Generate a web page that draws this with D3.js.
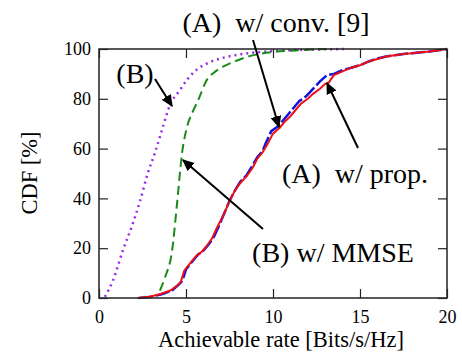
<!DOCTYPE html>
<meta charset='utf-8'>
<html>
  <style>
    body { margin: 0; background: #fff; }
    text { font-family: "Liberation Serif", "Times New Roman", serif; fill: #000; }
    .tick-label { font-size: 18px; }
    .axis-label { font-size: 22.5px; }
    .note { font-size: 28px; }
  </style>
  <head>
    <script src="https://cdn.jsdelivr.net/npm/d3@7/dist/d3.min.js"></script>
  </head>
  <body>
    <div id="chart"></div>
    <script>
      // CDF of achievable rate
      var propRate = [2.2, 2.9, 3.5, 4.1, 4.5, 4.7, 4.9, 5.3, 5.6, 5.9, 6.2, 6.5, 6.8, 7.2, 7.5, 7.8, 8.1, 8.5, 8.85, 9.1, 9.4, 9.7, 10.0, 10.4, 10.7, 11.0, 11.3, 11.6, 12.0, 12.3, 12.7, 13.0, 13.2, 13.5, 14.0, 14.5, 15.0, 15.5, 16.0, 16.5, 17.0, 17.5, 18.0, 18.5, 19.0, 19.5, 20];
      var propCdf  = [0, 0.5, 1.5, 3, 5, 6.5, 11, 14.5, 17, 18.5, 21, 24, 28.5, 34, 39, 43, 46, 49, 52.5, 56, 58.5, 62, 66, 68.5, 71, 73, 75.5, 78, 80, 82, 84, 86, 86.5, 89.5, 91, 92.5, 93.5, 95, 96, 97, 97.5, 98, 98.3, 98.7, 99, 99.5, 100];

      var convRate = [2.3, 3.0, 3.6, 4.2, 4.6, 4.8, 5.0, 5.4, 5.7, 6.0, 6.3, 6.6, 6.9, 7.2, 7.5, 7.8, 8.1, 8.5, 8.8, 9.1, 9.4, 9.6, 9.9, 10.3, 10.6, 10.9, 11.2, 11.5, 11.9, 12.3, 12.7, 13.1, 13.5, 14.0, 14.5, 15.0, 15.5, 16.0, 16.5, 17.0, 17.5, 18.0, 18.5, 19.0, 19.5, 20];
      var convCdf  = [0, 0.5, 1.5, 3, 5.5, 7, 11.5, 15, 17.5, 19, 21.5, 24.5, 29, 34, 39, 43, 46.5, 49.5, 53, 56.5, 59, 62.5, 67, 69, 71.5, 74, 76.5, 79, 81, 84, 87, 89.5, 90, 91.5, 92.5, 93.5, 95, 96.2, 97, 97.5, 98, 98.3, 98.7, 99, 99.5, 100];

      var mmseRate = [3.5, 3.8, 4.2, 4.5, 4.77, 5.06, 5.4, 5.7, 6.2, 6.6, 7.1, 7.8, 8.5, 9.2, 10.0, 11.0, 12.0, 13.3];
      var mmseCdf  = [3, 8.4, 19, 39, 58, 68.7, 75, 79.5, 87.6, 90.5, 92.8, 95, 96.8, 98, 98.8, 99.3, 99.7, 100];

      var noneRate = [0.34, 0.8, 1.38, 1.9, 2.36, 2.8, 3.2, 3.6, 4.08, 4.65, 5.1, 5.6, 6.3, 7.1, 7.9, 8.7, 10.0, 12.0, 14.1];
      var noneCdf  = [0.5, 7, 19.3, 29, 39, 50, 58, 67, 77.5, 83.5, 88, 91.6, 94.5, 96.4, 97.6, 98.4, 99.2, 99.7, 100];

      var xTicks = [0, 5, 10, 15, 20];
      var yTicks = [0, 20, 40, 60, 80, 100];

      var W = 462, H = 354,
        pLeft = 99, pRight = 447, pTop = 49, pBottom = 298;

      var x = d3.scaleLinear().domain([0, 20]).range([pLeft, pRight]);
      var y = d3.scaleLinear().domain([0, 100]).range([pBottom, pTop]);

      var svg = d3.select("#chart").append("svg")
        .attr("width", W)
        .attr("height", H);

      var defs = svg.append("defs");
      defs.append("marker")
        .attr("id", "head")
        .attr("viewBox", "0 0 10 10")
        .attr("refX", 9).attr("refY", 5)
        .attr("markerWidth", 6).attr("markerHeight", 6)
        .attr("markerUnits", "strokeWidth")
        .attr("orient", "auto")
        .append("path").attr("d", "M0,0.5 L10,5 L0,9.5 Z").attr("fill", "#000");

      function zip(a, b) { return a.map(function(v, i) { return [v, b[i]]; }); }
      var line = d3.line().x(function(d) { return x(d[0]); }).y(function(d) { return y(d[1]); });

      svg.append("path").datum(zip(noneRate, noneCdf))
        .attr("d", line.curve(d3.curveMonotoneX))
        .attr("fill", "none").attr("stroke", "#9a2be2").attr("stroke-width", 2.5)
        .attr("stroke-dasharray", "2,4");

      svg.append("path").datum(zip(mmseRate, mmseCdf))
        .attr("d", line.curve(d3.curveMonotoneX))
        .attr("fill", "none").attr("stroke", "#1a8a1a").attr("stroke-width", 2)
        .attr("stroke-dasharray", "9,5");

      svg.append("path").datum(zip(convRate, convCdf))
        .attr("d", line.curve(d3.curveLinear))
        .attr("fill", "none").attr("stroke", "#1010e0").attr("stroke-width", 2.5)
        .attr("stroke-dasharray", "14,3");

      svg.append("path").datum(zip(propRate, propCdf))
        .attr("d", line.curve(d3.curveLinear))
        .attr("fill", "none").attr("stroke", "#ee1111").attr("stroke-width", 2);

      // frame with inward ticks on all four sides
      svg.append("rect")
        .attr("x", pLeft).attr("y", pTop)
        .attr("width", pRight - pLeft).attr("height", pBottom - pTop)
        .attr("fill", "none").attr("stroke", "#222").attr("stroke-width", 1.5);

      svg.append("g").attr("transform", "translate(0," + pBottom + ")")
        .call(d3.axisBottom(x).tickValues(xTicks).tickSizeInner(-9).tickSizeOuter(0).tickPadding(12));
      svg.append("g").attr("transform", "translate(0," + pTop + ")")
        .call(d3.axisTop(x).tickValues(xTicks).tickSizeInner(-9).tickSizeOuter(0).tickFormat(""));
      svg.append("g").attr("transform", "translate(" + pLeft + ",0)")
        .call(d3.axisLeft(y).tickValues(yTicks).tickSizeInner(-9).tickSizeOuter(0).tickPadding(8));
      svg.append("g").attr("transform", "translate(" + pRight + ",0)")
        .call(d3.axisRight(y).tickValues(yTicks).tickSizeInner(-9).tickSizeOuter(0).tickFormat(""));

      svg.selectAll(".domain").remove();
      svg.selectAll(".tick line").attr("stroke", "#222").attr("stroke-width", 1.2);
      svg.selectAll(".tick text")
        .attr("class", "tick-label")
        .attr("fill", "#000");
      svg.selectAll("g").attr("font-family", null).attr("font-size", null);

      svg.append("text").attr("class", "axis-label")
        .attr("x", 281).attr("y", 347)
        .attr("text-anchor", "middle")
        .text("Achievable rate [Bits/s/Hz]");

      svg.append("text").attr("class", "axis-label")
        .attr("transform", "translate(37,173) rotate(-90)")
        .attr("text-anchor", "middle")
        .text("CDF [%]");

      // annotations: [text, x, y, arrow from, arrow to]
      var notes = [
        ["(A)  w/ conv. [9]", 276, 32, [253, 40], [279, 127]],
        ["(A)  w/ prop.", 355, 183, [358, 148], [327, 83]],
        ["(B) w/ MMSE", 333, 262, [263, 229], [183, 160]],
        ["(B)", 135, 83, [155, 79], [172, 106]]
      ];

      notes.forEach(function(n) {
        svg.append("text").attr("class", "note")
          .attr("x", n[1]).attr("y", n[2])
          .attr("text-anchor", "middle")
          .attr("xml:space", "preserve")
          .style("white-space", "pre")
          .text(n[0]);
        svg.append("line")
          .attr("x1", n[3][0]).attr("y1", n[3][1])
          .attr("x2", n[4][0]).attr("y2", n[4][1])
          .attr("stroke", "#000").attr("stroke-width", 2)
          .attr("marker-end", "url(#head)");
      });
    </script>
  </body>
</html>
